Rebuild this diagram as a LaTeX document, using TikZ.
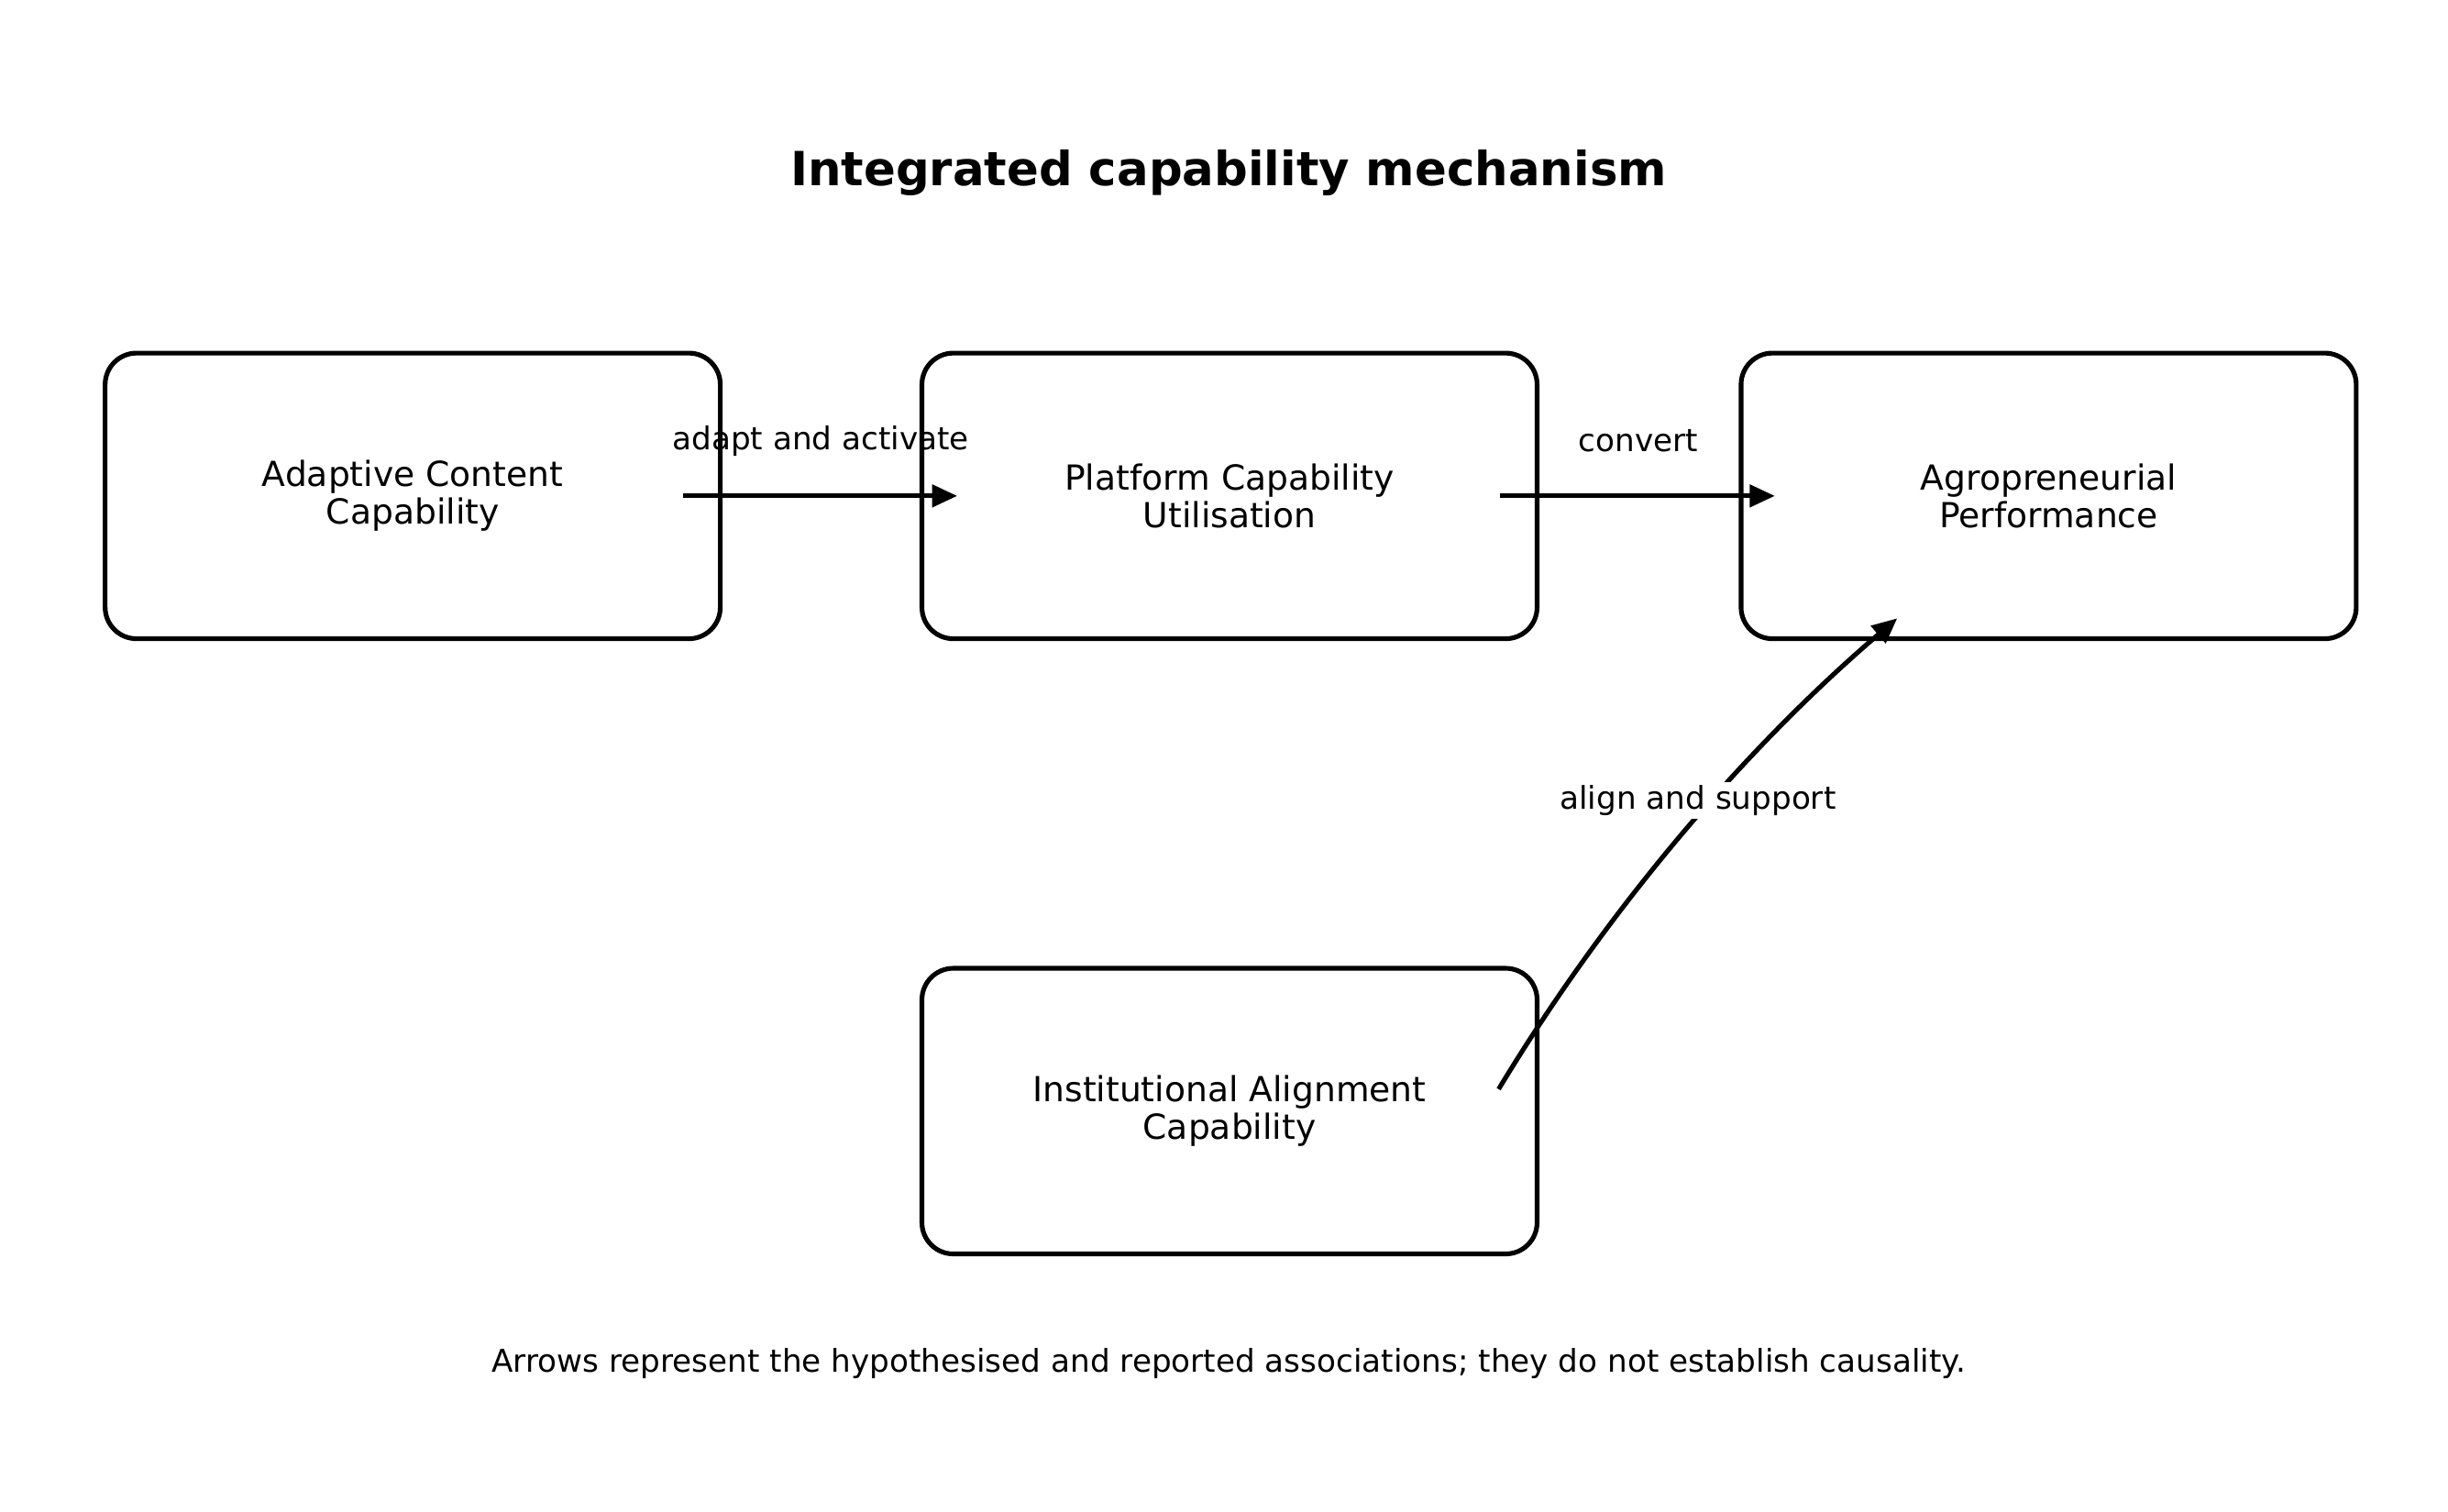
\documentclass[tikz,border=0pt]{standalone}
\usepackage{fontspec}
\setmainfont{DejaVu Sans}
\usetikzlibrary{arrows.meta}
\begin{document}
\begin{tikzpicture}[x=1pt,y=-1pt,
  box/.style={draw,line width=3pt,rounded corners=20pt,minimum width=392pt,minimum height=182pt,align=center,font=\fontsize{22}{24}\selectfont,inner sep=0pt},
  conn/.style={line width=3pt,-{Triangle[length=16pt,width=14pt]}},
  lab/.style={font=\fontsize{20}{22}\selectfont,inner sep=2pt}]
\useasboundingbox (0,0) rectangle (1560,963);
\node[font=\bfseries\fontsize{30}{32}\selectfont] (title) at (783,110) {Integrated capability mechanism};
\node[box] (a) at (263,316) {Adaptive Content\\Capability};
\node[box] (p) at (783.5,316) {Platform Capability\\Utilisation};
\node[box] (g) at (1305.5,316) {Agropreneurial\\Performance};
\node[box] (i) at (783.5,708) {Institutional Alignment\\Capability};
\coordinate (a1) at (435,316); \coordinate (p0) at (610,316);
\coordinate (p1) at (956,316); \coordinate (g0) at (1131,316);
\coordinate (i1) at (955,694); \coordinate (g1) at (1209,394);
\draw[conn] (a1) -- (p0);
\draw[conn] (p1) -- (g0);
\draw[conn] (i1) .. controls (1030,570) and (1120,470) .. (g1);
\node[lab] (l1) at (523,281) {adapt and activate};
\node[lab] (l2) at (1044,281) {convert};
\node[lab,fill=white] (l3) at (1082,510) {align and support};
\node[lab] (foot) at (783,869) {Arrows represent the hypothesised and reported associations; they do not establish causality.};
\end{tikzpicture}
\end{document}
